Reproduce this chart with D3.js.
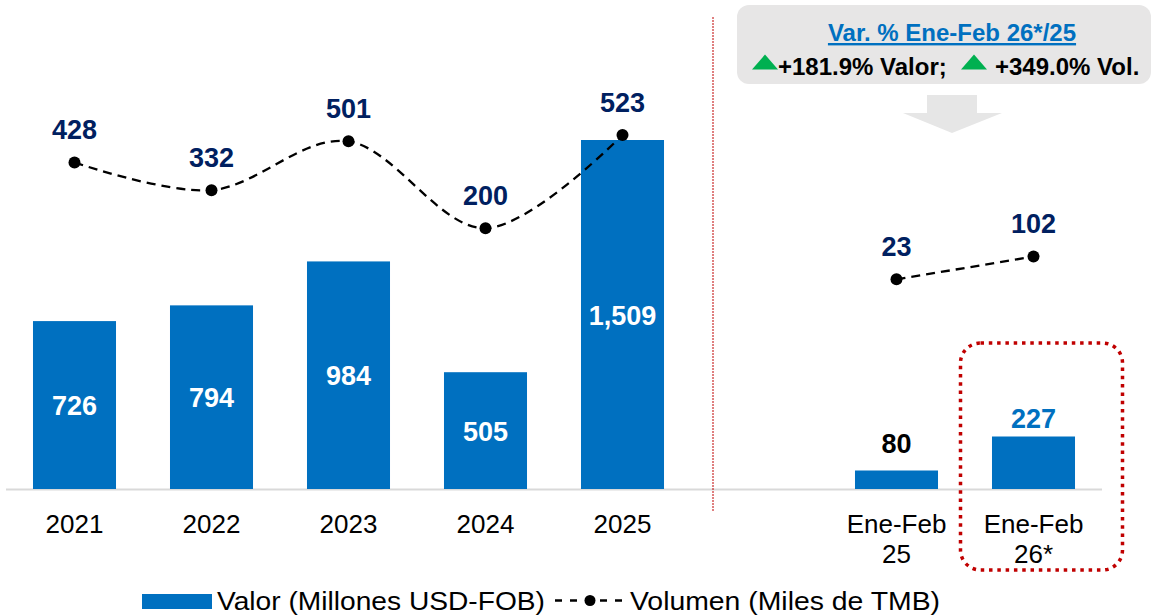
<!DOCTYPE html>
<html>
<head>
<meta charset="utf-8">
<script src="https://cdn.jsdelivr.net/npm/d3@7"></script>
<style>
  html, body { margin: 0; padding: 0; background: #ffffff; }
  svg { display: block; font-family: "Liberation Sans", Arial, sans-serif; }
</style>
</head>
<body>
<svg id="chart" width="1156" height="616"></svg>
<script>
// ---- data ----
const years = ["2021", "2022", "2023", "2024", "2025"];
const valorYears = [726, 794, 984, 505, 1509];
const volumenYears = [428, 332, 501, 200, 523];

const ytdCats = ["Ene-Feb 25", "Ene-Feb 26*"];
const ytdLabelLines = [["Ene-Feb", "25"], ["Ene-Feb", "26*"]];
const valorYtd = [80, 227];
const volumenYtd = [23, 102];

const boxTitle = "Var. % Ene-Feb 26*/25";
const boxValor = "+181.9% Valor;";
const boxVol = "+349.0% Vol.";
const legendValor = "Valor (Millones USD-FOB)";
const legendVol = "Volumen (Miles de TMB)";

// ---- setup ----
const svg = d3.select("#chart");
const BLUE = "#0070C0", NAVY = "#002060", RED = "#C00000", GREEN = "#00B050";
const LBL = 27;

const domainAll = [...years, "__gap__", ...ytdCats];
const x = d3.scaleBand().domain(domainAll).range([6, 1102]).paddingInner(0.394).paddingOuter(0.197);
const yVal = d3.scaleLinear().domain([0, 1509]).range([489, 140]);
const yVol = d3.scaleLinear().domain([0, 523]).range([286, 135]);

// baseline
svg.append("line")
  .attr("x1", 6).attr("x2", 1102).attr("y1", 489.5).attr("y2", 489.5)
  .attr("stroke", "#D9D9D9").attr("stroke-width", 2);

// separator
svg.append("line")
  .attr("x1", 713).attr("x2", 713).attr("y1", 17).attr("y2", 511)
  .attr("stroke", RED).attr("stroke-width", 1).attr("stroke-dasharray", "2,1");

const yearData = years.map((c, i) => ({cat: c, val: valorYears[i], vol: volumenYears[i]}));
const ytdData = ytdCats.map((c, i) => ({cat: c, val: valorYtd[i], vol: volumenYtd[i], lines: ytdLabelLines[i]}));

// bars
svg.append("g").selectAll("rect").data([...yearData, ...ytdData]).join("rect")
  .attr("x", d => x(d.cat)).attr("width", x.bandwidth())
  .attr("y", d => yVal(d.val)).attr("height", d => yVal(0) - yVal(d.val))
  .attr("fill", BLUE);

// bar value labels (years: inside, white)
svg.append("g").selectAll("text").data(yearData).join("text")
  .attr("x", d => x(d.cat) + x.bandwidth() / 2)
  .attr("y", d => (yVal(d.val) + yVal(0)) / 2 + 10)
  .attr("text-anchor", "middle").attr("font-size", LBL).attr("font-weight", "bold")
  .attr("fill", "#ffffff")
  .text(d => d3.format(",")(d.val));

// ytd bar labels (above)
const ytdGap = [17, 8];
const ytdColor = ["#000000", BLUE];
svg.append("g").selectAll("text").data(ytdData).join("text")
  .attr("x", d => x(d.cat) + x.bandwidth() / 2)
  .attr("y", (d, i) => yVal(d.val) - ytdGap[i])
  .attr("text-anchor", "middle").attr("font-size", LBL).attr("font-weight", "bold")
  .attr("fill", (d, i) => ytdColor[i])
  .text(d => d3.format(",")(d.val));

// volume lines
const cx = d => x(d.cat) + x.bandwidth() / 2;
const lineSmooth = d3.line().x(cx).y(d => yVol(d.vol)).curve(d3.curveCardinal.tension(0));
const lineStraight = d3.line().x(cx).y(d => yVol(d.vol));

svg.append("path").datum(yearData).attr("d", lineSmooth)
  .attr("fill", "none").attr("stroke", "#000").attr("stroke-width", 2.3).attr("stroke-dasharray", "9,6");
svg.append("path").datum(ytdData).attr("d", lineStraight)
  .attr("fill", "none").attr("stroke", "#000").attr("stroke-width", 2.3).attr("stroke-dasharray", "9,6");

svg.append("g").selectAll("circle").data([...yearData, ...ytdData]).join("circle")
  .attr("cx", cx).attr("cy", d => yVol(d.vol)).attr("r", 6).attr("fill", "#000");

svg.append("g").selectAll("text").data([...yearData, ...ytdData]).join("text")
  .attr("x", cx).attr("y", d => yVol(d.vol) - 23.5)
  .attr("text-anchor", "middle").attr("font-size", LBL).attr("font-weight", "bold")
  .attr("fill", NAVY)
  .text(d => d3.format(",")(d.vol));

// x axis labels
svg.append("g").selectAll("text").data(yearData).join("text")
  .attr("x", cx).attr("y", 533)
  .attr("text-anchor", "middle").attr("font-size", 26).attr("fill", "#000")
  .text(d => d.cat);

const ytdLbl = svg.append("g").selectAll("text").data(ytdData).join("text")
  .attr("x", cx).attr("y", 533)
  .attr("text-anchor", "middle").attr("font-size", 26).attr("fill", "#000");
ytdLbl.selectAll("tspan").data(d => d.lines.map(l => ({l, x: cx(d)}))).join("tspan")
  .attr("x", d => d.x).attr("dy", (d, i) => i === 0 ? 0 : 30).text(d => d.l);

// red dotted highlight around last category
const hlX = x(ytdCats[1]) + x.bandwidth() / 2;
svg.append("rect")
  .attr("x", hlX - 73).attr("y", 343).attr("width", 162).attr("height", 227)
  .attr("rx", 20).attr("ry", 20)
  .attr("fill", "none").attr("stroke", RED).attr("stroke-width", 3.5).attr("stroke-dasharray", "3.5,4.8");

// info box
svg.append("rect").attr("x", 737).attr("y", 5).attr("width", 414).attr("height", 79)
  .attr("rx", 12).attr("ry", 12).attr("fill", "#E7E6E6");
svg.append("text").attr("x", 952).attr("y", 41).attr("text-anchor", "middle")
  .attr("font-size", 24).attr("font-weight", "bold").attr("fill", BLUE)
  .attr("text-decoration", "underline").text(boxTitle);
function tri(x0, yb) {
  svg.append("path").attr("d", `M${x0},${yb} L${x0 + 26},${yb} L${x0 + 13},${yb - 15} Z`).attr("fill", GREEN);
}
tri(752, 69.5);
svg.append("text").attr("x", 778).attr("y", 75)
  .attr("font-size", 24).attr("font-weight", "bold").attr("fill", "#000").text(boxValor);
tri(961, 69.5);
svg.append("text").attr("x", 995).attr("y", 75)
  .attr("font-size", 24).attr("font-weight", "bold").attr("fill", "#000").text(boxVol);

// down arrow
svg.append("path")
  .attr("d", "M927,95 L977,95 L977,113 L1002,113 L952,133 L903,113 L927,113 Z")
  .attr("fill", "#E6E6E6");

// legend
svg.append("rect").attr("x", 142).attr("y", 594).attr("width", 70).attr("height", 15).attr("fill", BLUE);
svg.append("text").attr("x", 217).attr("y", 610).attr("font-size", 25).attr("fill", "#000")
  .attr("textLength", 328).attr("lengthAdjust", "spacingAndGlyphs").text(legendValor);
svg.append("line").attr("x1", 555).attr("x2", 622).attr("y1", 600.5).attr("y2", 600.5)
  .attr("stroke", "#000").attr("stroke-width", 2.3).attr("stroke-dasharray", "7,8");
svg.append("circle").attr("cx", 590).attr("cy", 600.5).attr("r", 5.5).attr("fill", "#000");
svg.append("text").attr("x", 630).attr("y", 610).attr("font-size", 25).attr("fill", "#000")
  .attr("textLength", 310).attr("lengthAdjust", "spacingAndGlyphs").text(legendVol);
</script>
</body>
</html>
